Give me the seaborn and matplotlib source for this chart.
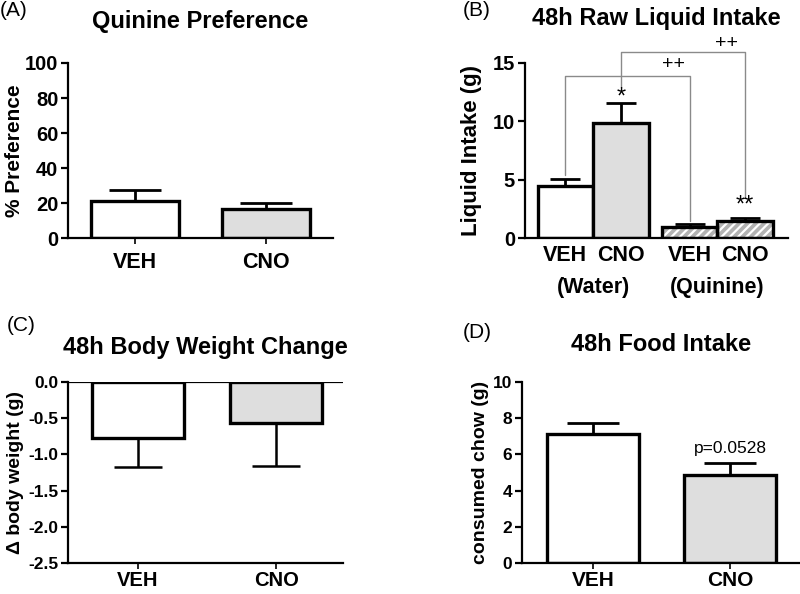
import numpy as np
import pandas as pd
import matplotlib
matplotlib.use("Agg")
import matplotlib.pyplot as plt
from matplotlib.patches import Rectangle
import seaborn as sns

sns.set_theme(style="ticks")
plt.rcParams['font.family'] = ['Liberation Sans', 'DejaVu Sans']
plt.rcParams['hatch.linewidth'] = 1.6
for k in ['text.color', 'axes.labelcolor', 'xtick.color', 'ytick.color', 'axes.edgecolor']:
    plt.rcParams[k] = 'black'

# (A) quinine preference
pref_groups = ['VEH', 'CNO']
pref_mean = [21.0, 16.5]
pref_sem = [6.5, 3.5]

# (B) 48h raw liquid intake
intake_labels = ['VEH', 'CNO', 'VEH', 'CNO']
intake_pos = [0, 1, 2.23, 3.23]
intake_mean = [4.5, 9.9, 1.0, 1.5]
intake_sem = [0.6, 1.7, 0.2, 0.2]
intake_groups = ['(Water)', '(Quinine)']

# (C) body weight change
bw_groups = ['VEH', 'CNO']
bw_mean = [-0.77, -0.57]
bw_sem = [0.41, 0.59]

# (D) food intake
food_groups = ['VEH', 'CNO']
food_mean = [7.1, 4.85]
food_sem = [0.65, 0.65]

white = '#ffffff'
grey = '#dedede'
hatch_grey = '#b2b2b2'
edge_lw = 2.4
axis_lw = 1.6

fig = plt.figure(figsize=(8, 5.94), dpi=100)
axA = fig.add_axes([0.085, 0.599, 0.331, 0.295])
axB = fig.add_axes([0.656, 0.599, 0.329, 0.295])
axC = fig.add_axes([0.085, 0.052, 0.344, 0.305])
axD = fig.add_axes([0.6525, 0.052, 0.3475, 0.305])


def style_axis(ax, tick_size=13, xtick_size=13, xpad=4):
    sns.despine(ax=ax)
    ax.spines['left'].set_linewidth(axis_lw)
    ax.spines['bottom'].set_linewidth(axis_lw)
    ax.tick_params(axis='y', width=axis_lw, length=5, labelsize=tick_size, pad=2)
    ax.tick_params(axis='x', width=1.2, length=4, labelsize=xtick_size, pad=xpad)
    for lab in ax.get_xticklabels() + ax.get_yticklabels():
        lab.set_fontweight('bold')
    ax.set_xlabel('')
    ax.set_facecolor('none')


def upper_err(ax, x, mean, sem, capsize=19):
    lo = np.zeros(len(mean))
    ax.errorbar(x, mean, yerr=[lo, sem], fmt='none', ecolor='black',
                elinewidth=2.0, capsize=capsize, capthick=2.0, zorder=1)


def lower_err(ax, x, mean, sem, capsize=17):
    lo = np.zeros(len(mean))
    ax.errorbar(x, mean, yerr=[sem, lo], fmt='none', ecolor='black',
                elinewidth=1.8, capsize=capsize, capthick=1.8, zorder=1)


# ---- (A)
dfA = pd.DataFrame({'group': pref_groups, 'value': pref_mean})
sns.barplot(data=dfA, x='group', y='value', hue='group', palette=[white, grey],
            width=0.67, edgecolor='black', linewidth=edge_lw, legend=False,
            ax=axA, zorder=2)
upper_err(axA, [0, 1], pref_mean, pref_sem)
axA.set_xlim(-0.51, 1.51)
axA.set_ylim(0, 100)
axA.set_yticks([0, 20, 40, 60, 80, 100])
axA.set_ylabel('% Preference', fontsize=15, fontweight='bold')
axA.yaxis.set_label_coords(-0.165, 0.5)
style_axis(axA, tick_size=14.5, xtick_size=15.5, xpad=6)
axA.set_title('Quinine Preference', fontsize=17, fontweight='bold', pad=25)

# ---- (B)
dfB = pd.DataFrame({'pos': intake_pos, 'value': intake_mean})
sns.barplot(data=dfB, x='pos', y='value', hue='pos', native_scale=True,
            palette=[white, grey, hatch_grey, hatch_grey], width=1.0,
            edgecolor='black', linewidth=edge_lw, legend=False, ax=axB, zorder=2)
for p in list(axB.patches)[2:4]:
    p.set_hatch('////')
    p.set_edgecolor('white')
    p.set_linewidth(0)
    axB.add_patch(Rectangle(p.get_xy(), p.get_width(), p.get_height(),
                            fill=False, edgecolor='black', linewidth=edge_lw, zorder=3))
upper_err(axB, intake_pos, intake_mean, intake_sem, capsize=11)
axB.set_xlim(-0.73, 4.0)
axB.set_ylim(0, 15)
axB.set_yticks([0, 5, 10, 15])
axB.set_xticks(intake_pos)
axB.set_xticklabels(intake_labels)
axB.set_ylabel('Liquid Intake (g)', fontsize=16, fontweight='bold', labelpad=8)
style_axis(axB, tick_size=14.5, xtick_size=15.5, xpad=5)
axB.tick_params(axis='x', length=0)
axB.set_title('48h Raw Liquid Intake', fontsize=17, fontweight='bold', pad=27)
for gx, gl in zip([0.5, 2.73], intake_groups):
    axB.text(gx, -0.28, gl, transform=axB.get_xaxis_transform(), ha='center',
             va='center', fontsize=15.5, fontweight='bold')

# significance brackets
br = dict(color='#8a8a8a', lw=1.0, clip_on=False, zorder=0)
axB.plot([intake_pos[0], intake_pos[0], intake_pos[2], intake_pos[2]],
         [5.4, 13.9, 13.9, 1.5], **br)
axB.plot([intake_pos[1], intake_pos[1], intake_pos[3], intake_pos[3]],
         [12.9, 15.9, 15.9, 3.5], **br)
axB.text(1.95, 14.9, '++', ha='center', va='center', fontsize=14, clip_on=False)
axB.text(2.90, 16.65, '++', ha='center', va='center', fontsize=14, clip_on=False)
axB.text(intake_pos[1], 12.0, '*', ha='center', va='center', fontsize=17)
axB.text(intake_pos[3], 2.8, '**', ha='center', va='center', fontsize=17)

# ---- (C)
dfC = pd.DataFrame({'group': bw_groups, 'value': bw_mean})
sns.barplot(data=dfC, x='group', y='value', hue='group', palette=[white, grey],
            width=0.67, edgecolor='black', linewidth=edge_lw, legend=False,
            ax=axC, zorder=2)
lower_err(axC, [0, 1], bw_mean, bw_sem)
axC.axhline(0, color='black', lw=axis_lw, zorder=4)
axC.set_xlim(-0.507, 1.486)
axC.set_ylim(-2.5, 0)
axC.set_yticks([0, -0.5, -1.0, -1.5, -2.0, -2.5])
axC.set_yticklabels(['0.0', '-0.5', '-1.0', '-1.5', '-2.0', '-2.5'])
axC.set_ylabel('Δ body weight (g)', fontsize=14, fontweight='bold', labelpad=3)
style_axis(axC, tick_size=12.5, xtick_size=14.5, xpad=1.5)
axC.set_title('48h Body Weight Change', fontsize=17, fontweight='bold', pad=20)

# ---- (D)
dfD = pd.DataFrame({'group': food_groups, 'value': food_mean})
sns.barplot(data=dfD, x='group', y='value', hue='group', palette=[white, grey],
            width=0.67, edgecolor='black', linewidth=edge_lw, legend=False,
            ax=axD, zorder=2)
upper_err(axD, [0, 1], food_mean, food_sem)
axD.set_xlim(-0.52, 1.51)
axD.set_ylim(0, 10)
axD.set_yticks([0, 2, 4, 6, 8, 10])
axD.set_ylabel('consumed chow (g)', fontsize=14, fontweight='bold', labelpad=3)
style_axis(axD, tick_size=12.5, xtick_size=15, xpad=1.5)
axD.text(1, food_mean[1] + food_sem[1] + 0.85, 'p=0.0528', ha='center',
         va='center', fontsize=12.5)
axD.set_title('48h Food Intake', fontsize=17, fontweight='bold', pad=22)

# panel letters
for lab, (x, y) in zip(['(A)', '(B)', '(C)', '(D)'],
                       [(0.0, 0.983), (0.578, 0.983), (0.008, 0.452), (0.578, 0.44)]):
    fig.text(x, y, lab, fontsize=15, ha='left', va='center')

fig.savefig('out.png', dpi=100)
